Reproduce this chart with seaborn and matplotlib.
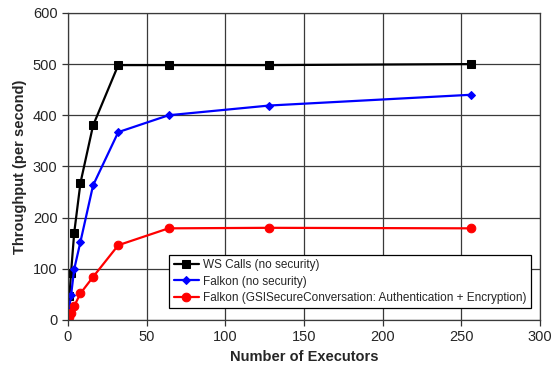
import matplotlib
matplotlib.use("Agg")
import matplotlib.pyplot as plt
import seaborn as sns
import pandas as pd

executors = [1, 2, 4, 8, 16, 32, 64, 128, 256]
ws_calls = [47, 92, 170, 268, 380, 498, 498, 498, 500]
falkon = [27, 48, 99, 153, 263, 367, 400, 419, 440]
falkon_gsi = [6, 14, 27, 52, 84, 146, 179, 180, 179]

labels = ["WS Calls (no security)", "Falkon (no security)",
          "Falkon (GSISecureConversation: Authentication + Encryption)"]
series = [ws_calls, falkon, falkon_gsi]
colors = ["black", "blue", "red"]
markers = ["s", "D", "o"]
msizes = [6, 4.5, 6.2]

sns.set_style("white")
plt.rcParams['font.family'] = ['Liberation Sans', 'DejaVu Sans']

fig = plt.figure(figsize=(5.52, 3.69), dpi=100)
ax = fig.add_axes([0.123, 0.133, 0.855, 0.832])

for lab, vals, c, m, ms in zip(labels, series, colors, markers, msizes):
    df = pd.DataFrame({"x": executors, "y": vals})
    sns.lineplot(data=df, x="x", y="y", ax=ax, color=c, marker=m, markersize=ms,
                 markeredgecolor=c, linewidth=1.6, label=lab)

ax.set_xlim(0, 300)
ax.set_ylim(0, 600)
ax.set_xticks(range(0, 301, 50))
ax.set_yticks(range(0, 601, 100))
ax.grid(True, color="#3a3a3a", linewidth=0.9)
ax.set_axisbelow(True)
for s in ax.spines.values():
    s.set_color("#3a3a3a")
    s.set_linewidth(0.9)
ax.tick_params(axis="both", which="major", direction="out", length=4, width=0.9,
               color="#333333", labelsize=10.5, bottom=True, left=True)
ax.set_xlabel("Number of Executors", fontsize=10.5, fontweight="bold")
ax.set_ylabel("Throughput (per second)", fontsize=10.5, fontweight="bold")

leg = ax.legend(loc="lower right", bbox_to_anchor=(0.993, 0.02), fontsize=8.5,
                frameon=True, fancybox=False, edgecolor="black", framealpha=1,
                handlelength=2.2, borderpad=0.35, labelspacing=0.35, handletextpad=0.3)
leg.get_frame().set_linewidth(0.9)

fig.savefig("out.png", dpi=100)
